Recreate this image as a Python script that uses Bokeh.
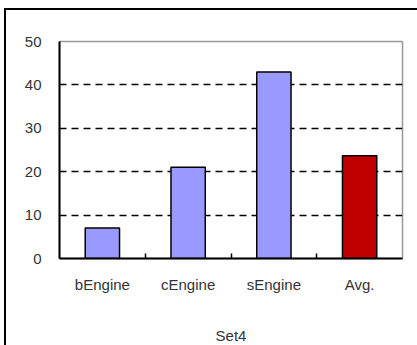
from bokeh.plotting import figure
from bokeh.models import FixedTicker, ColumnDataSource, Range1d
from bokeh.embed import file_html
from bokeh.resources import INLINE

categories = ["bEngine", "cEngine", "sEngine", "Avg."]
values = [7.0, 21.0, 43.0, 23.7]
colors = ["#9999FF", "#9999FF", "#9999FF", "#C00000"]
y_ticks = [0, 10, 20, 30, 40, 50]
grid_ticks = [10, 20, 30, 40]
group_label = "Set4"

n = len(categories)
xpos = [i + 0.5 for i in range(n)]
src = ColumnDataSource(dict(x=xpos, top=values, color=colors, name=categories))

FONT = "Liberation Sans"

p = figure(width=413, height=337, x_range=Range1d(0, n), y_range=Range1d(0, 50),
           output_backend="svg", toolbar_location=None,
           min_border_left=53, min_border_right=17, min_border_top=31, min_border_bottom=89,
           margin=(8, 0, 0, 4),
           styles={"border-left": "2px solid black", "border-top": "2px solid black"})

p.vbar(x="x", top="top", width=0.4, bottom=0, fill_color="color",
       line_color="black", line_width=1.5, source=src)

p.outline_line_color = "#999999"
p.outline_line_width = 1.5
p.background_fill_color = "white"
p.border_fill_color = "white"

p.xgrid.visible = False
p.ygrid.ticker = FixedTicker(ticks=grid_ticks)
p.ygrid.grid_line_color = "black"
p.ygrid.grid_line_dash = "7 5"
p.ygrid.grid_line_width = 1.5

p.yaxis.ticker = FixedTicker(ticks=y_ticks)
p.yaxis.axis_line_color = "black"
p.yaxis.axis_line_width = 2
p.yaxis.major_tick_line_color = None
p.yaxis.minor_tick_line_color = None
p.yaxis.major_label_standoff = 12
p.yaxis.major_label_text_font = FONT
p.yaxis.major_label_text_font_size = "15px"
p.yaxis.major_label_text_color = "#333333"

p.xaxis.ticker = FixedTicker(ticks=xpos, minor_ticks=[float(i) for i in range(1, n)])
p.xaxis.major_label_overrides = {x: c for x, c in zip(xpos, categories)}
p.xaxis.axis_line_color = "black"
p.xaxis.axis_line_width = 2
p.xaxis.major_tick_line_color = None
p.xaxis.minor_tick_line_color = "black"
p.xaxis.minor_tick_line_width = 1.5
p.xaxis.minor_tick_in = 5
p.xaxis.minor_tick_out = 0
p.xaxis.major_label_standoff = 11
p.xaxis.major_label_text_font = FONT
p.xaxis.major_label_text_font_size = "15px"
p.xaxis.major_label_text_color = "#333333"
p.xaxis.axis_label = group_label
p.xaxis.axis_label_standoff = 31
p.xaxis.axis_label_text_font = FONT
p.xaxis.axis_label_text_font_size = "15px"
p.xaxis.axis_label_text_font_style = "normal"
p.xaxis.axis_label_text_color = "#333333"

open("out.html", "w").write(file_html(p, INLINE))
